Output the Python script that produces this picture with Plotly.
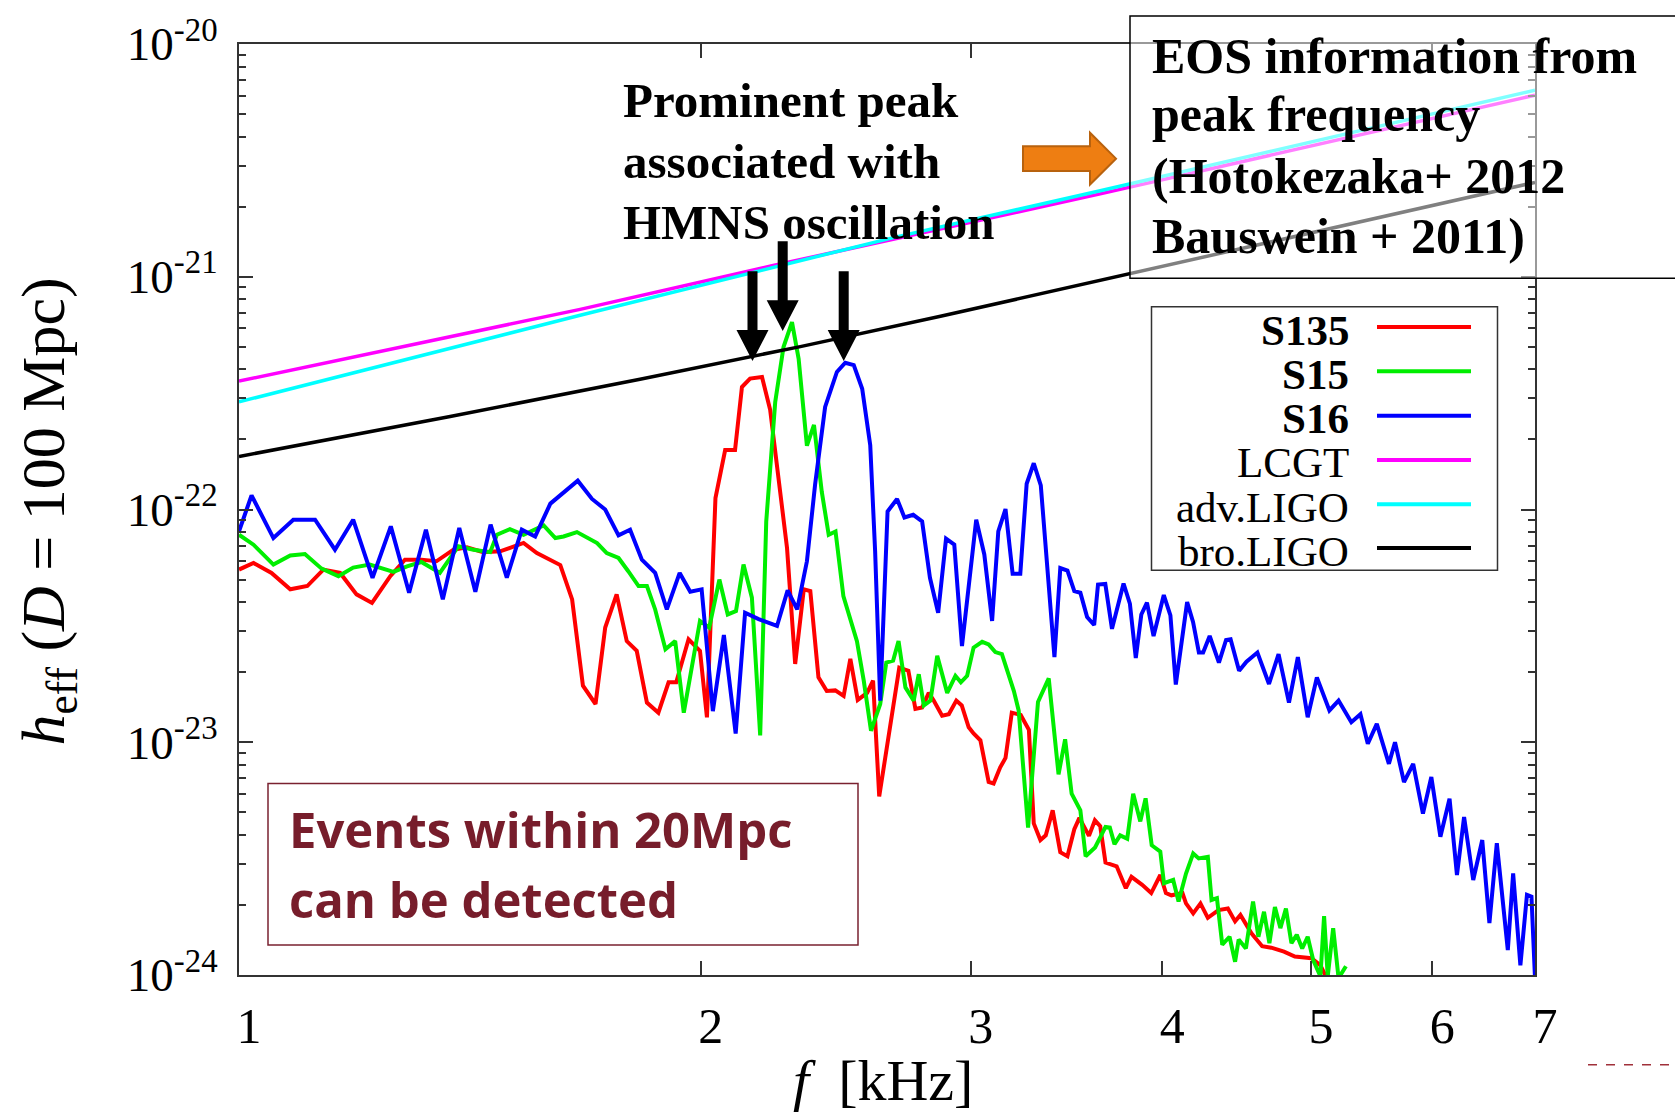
import math
import plotly.graph_objects as go

# ---------------- data (f in kHz, h in units of 1e-23) ----------------
H_UNIT = 1e-23

f_s135 = [1.000, 1.022, 1.050, 1.080, 1.108, 1.135, 1.164, 1.193, 1.221, 1.255,
          1.283, 1.315, 1.345, 1.380, 1.408, 1.443, 1.480, 1.506, 1.533, 1.564,
          1.620, 1.649, 1.676, 1.708, 1.733, 1.763, 1.790, 1.817, 1.845, 1.877,
          1.906, 1.928, 1.964, 1.998, 2.019, 2.045, 2.075, 2.106, 2.128, 2.154,
          2.193, 2.220, 2.248, 2.277, 2.305, 2.335, 2.358, 2.387, 2.417, 2.448,
          2.479, 2.504, 2.532, 2.568, 2.591, 2.615, 2.695, 2.732, 2.761, 2.789,
          2.817, 2.838, 2.874, 2.903, 2.936, 2.960, 2.991, 3.013, 3.044, 3.082,
          3.105, 3.136, 3.161, 3.191, 3.234, 3.274, 3.298, 3.331, 3.358, 3.393,
          3.432, 3.469, 3.505, 3.532, 3.583, 3.615, 3.644, 3.673, 3.735, 3.787,
          3.819, 3.881, 3.934, 3.988, 4.022, 4.055, 4.123, 4.145, 4.190, 4.236,
          4.283, 4.352, 4.414, 4.462, 4.498, 4.573, 4.647, 4.711, 4.802, 4.881,
          5.004, 5.072, 5.114, 5.183]
h_s135 = [5.52, 5.89, 5.34, 4.54, 4.69, 5.52, 5.34, 4.32, 3.97, 5.17,
          6.09, 6.09, 5.99, 6.72, 6.88, 6.56, 6.61, 6.90, 7.18, 6.50,
          5.77, 4.11, 1.75, 1.46, 3.11, 4.32, 2.72, 2.47, 1.48, 1.34,
          1.81, 1.81, 2.77, 2.47, 1.28, 11.2, 18.0, 18.0, 33.6, 36.5,
          37.1, 26.8, 14.1, 6.83, 2.17, 4.54, 4.46, 1.90, 1.66, 1.67,
          1.58, 2.28, 1.52, 1.63, 1.84, 0.585, 2.09, 2.03, 1.39, 1.41,
          1.63, 1.51, 1.30, 1.32, 1.51, 1.44, 1.16, 1.09, 1.02, 0.675,
          0.665, 0.780, 0.856, 1.34, 1.31, 1.13, 0.448, 0.380, 0.398, 0.510,
          0.337, 0.324, 0.423, 0.473, 0.396, 0.462, 0.436, 0.304, 0.293, 0.236,
          0.264, 0.244, 0.225, 0.269, 0.225, 0.220, 0.225, 0.203, 0.184, 0.203,
          0.176, 0.190, 0.193, 0.170, 0.181, 0.151, 0.133, 0.131, 0.126, 0.120,
          0.118, 0.110, 0.0985, 0.097]

f_s15 = [1.000, 1.022, 1.053, 1.080, 1.104, 1.132, 1.161, 1.187, 1.217, 1.261,
         1.287, 1.315, 1.352, 1.390, 1.422, 1.458, 1.473, 1.502, 1.533, 1.580,
         1.608, 1.628, 1.661, 1.712, 1.737, 1.768, 1.794, 1.822, 1.845, 1.868,
         1.897, 1.925, 1.950, 1.998, 2.026, 2.057, 2.083, 2.109, 2.133, 2.160,
         2.187, 2.207, 2.237, 2.265, 2.294, 2.317, 2.346, 2.371, 2.399, 2.424,
         2.449, 2.478, 2.529, 2.555, 2.583, 2.619, 2.643, 2.670, 2.692, 2.720,
         2.754, 2.775, 2.796, 2.824, 2.853, 2.896, 2.932, 2.956, 2.984, 3.013,
         3.052, 3.082, 3.113, 3.144, 3.201, 3.224, 3.270, 3.306, 3.319, 3.373,
         3.423, 3.457, 3.491, 3.537, 3.565, 3.616, 3.673, 3.697, 3.723, 3.755,
         3.795, 3.829, 3.870, 3.901, 3.937, 3.988, 4.010, 4.066, 4.099, 4.145,
         4.190, 4.225, 4.283, 4.307, 4.342, 4.377, 4.425, 4.462, 4.486, 4.535,
         4.584, 4.621, 4.660, 4.698, 4.737, 4.776, 4.816, 4.856, 4.895, 4.935,
         4.976, 5.017, 5.072, 5.100, 5.128, 5.170, 5.212, 5.270]
h_s15 = [7.79, 7.06, 5.80, 6.35, 6.44, 5.57, 5.17, 5.63, 5.80, 5.39,
         5.70, 5.95, 5.34, 6.95, 6.72, 6.56, 7.79, 8.24, 7.79, 8.55,
         7.54, 7.66, 8.00, 7.18, 6.50, 6.19, 5.43, 4.69, 4.69, 3.72,
         2.51, 2.72, 1.34, 3.32, 3.11, 5.00, 3.54, 3.66, 5.80, 4.18,
         1.07, 8.89, 29.0, 49.9, 63.8, 44.4, 18.8, 23.1, 11.9, 7.79,
         8.05, 4.25, 2.72, 1.84, 1.12, 1.46, 2.20, 2.24, 2.72, 1.72,
         1.51, 1.96, 1.44, 1.51, 2.35, 1.63, 1.93, 1.81, 1.93, 2.55,
         2.70, 2.63, 2.44, 2.39, 1.66, 1.37, 0.430, 1.12, 1.49, 1.88,
         0.728, 1.03, 0.601, 0.510, 0.324, 0.353, 0.433, 0.430, 0.365, 0.398,
         0.385, 0.601, 0.457, 0.574, 0.361, 0.339, 0.248, 0.256, 0.207, 0.273,
         0.333, 0.317, 0.322, 0.210, 0.214, 0.135, 0.146, 0.114, 0.142, 0.130,
         0.207, 0.146, 0.187, 0.137, 0.196, 0.159, 0.193, 0.137, 0.149, 0.130,
         0.146, 0.116, 0.0987, 0.179, 0.0987, 0.159, 0.097, 0.109]

f_s16 = [1.000, 1.019, 1.053, 1.085, 1.121, 1.155, 1.187, 1.222, 1.256, 1.291,
         1.324, 1.358, 1.392, 1.426, 1.459, 1.495, 1.529, 1.560, 1.596, 1.628,
         1.663, 1.699, 1.733, 1.768, 1.799, 1.831, 1.868, 1.901, 1.938, 1.969,
         2.003, 2.037, 2.071, 2.108, 2.138, 2.182, 2.243, 2.279, 2.312, 2.346,
         2.375, 2.411, 2.454, 2.485, 2.517, 2.549, 2.580, 2.599, 2.619, 2.648,
         2.686, 2.716, 2.752, 2.789, 2.822, 2.857, 2.891, 2.927, 2.961, 3.025,
         3.062, 3.098, 3.127, 3.161, 3.195, 3.232, 3.263, 3.298, 3.333, 3.402,
         3.432, 3.469, 3.505, 3.537, 3.573, 3.611, 3.632, 3.672, 3.709, 3.774,
         3.810, 3.844, 3.876, 3.909, 3.948, 4.009, 4.049, 4.082, 4.152, 4.189,
         4.226, 4.253, 4.295, 4.355, 4.402, 4.432, 4.489, 4.539, 4.614, 4.695,
         4.763, 4.838, 4.903, 4.976, 5.045, 5.141, 5.212, 5.313, 5.386, 5.446,
         5.520, 5.621, 5.673, 5.750, 5.830, 5.916, 5.991, 6.073, 6.157, 6.226,
         6.293, 6.380, 6.467, 6.537, 6.610, 6.720, 6.774, 6.848, 6.916, 6.963,
         7.000]
h_s16 = [8.05, 11.5, 7.54, 9.04, 9.04, 6.72, 9.04, 5.09, 8.46, 4.39,
         8.19, 4.11, 8.33, 4.43, 8.61, 5.09, 8.19, 7.66, 10.6, 11.9,
         13.3, 11.1, 10.0, 7.74, 8.19, 6.09, 5.34, 3.72, 5.34, 4.43,
         4.54, 1.36, 2.89, 1.09, 3.60, 3.38, 3.16, 4.49, 3.72, 5.99,
         12.8, 27.6, 39.0, 42.7, 41.7, 33.0, 18.9, 6.61, 1.51, 9.81,
         11.1, 9.24, 9.49, 8.89, 5.09, 3.60, 7.49, 7.06, 2.59, 9.04,
         6.41, 3.32, 8.05, 10.05, 5.30, 5.30, 12.9, 15.8, 12.7, 2.32,
         5.60, 5.46, 4.46, 4.39, 3.45, 3.19, 4.76, 4.79, 3.07, 4.81,
         3.94, 2.30, 3.54, 3.98, 2.86, 4.29, 3.51, 1.77, 4.00, 3.29,
         2.43, 2.43, 2.86, 2.20, 2.75, 2.77, 2.03, 2.22, 2.43, 1.78,
         2.39, 1.48, 2.32, 1.28, 1.90, 1.37, 1.51, 1.22, 1.32, 0.985,
         1.20, 0.808, 1.00, 0.675, 0.808, 0.494, 0.709, 0.393, 0.572, 0.269,
         0.477, 0.256, 0.380, 0.167, 0.368, 0.128, 0.273, 0.110, 0.221, 0.217,
         0.097]

f_lcgt = [1.0, 1.669, 2.230, 3.644, 7.0]
h_lcgt = [35.6, 72.4, 111.7, 227.0, 603.0]
f_adv = [1.0, 1.669, 2.671, 3.644, 7.0]
h_adv = [29.0, 68.3, 147.3, 234.0, 633.0]
f_bro = [1.0, 1.373, 1.826, 2.323, 2.867, 3.644, 4.921, 7.0]
h_bro = [16.9, 25.1, 36.3, 50.1, 67.6, 96.6, 150.5, 254.4]

series = [
    ("S135", f_s135, h_s135, "#ff0000", 4.0, True),
    ("S15", f_s15, h_s15, "#00ee00", 4.0, True),
    ("S16", f_s16, h_s16, "#0000ff", 4.0, True),
    ("LCGT", f_lcgt, h_lcgt, "#ff00ff", 3.5, False),
    ("adv.LIGO", f_adv, h_adv, "#00ffff", 3.5, False),
    ("bro.LIGO", f_bro, h_bro, "#000000", 3.5, False),
]

x_ticks = [1, 2, 3, 4, 5, 6, 7]
y_exps = [-24, -23, -22, -21, -20]

# ---------------- figure ----------------
W, H = 1675, 1119
L, R, T, B = 239, 140, 41, 144
PW, PH = W - L - R, H - T - B

def px(x):
    return (x - L) / PW

def py(y):
    return (H - B - y) / PH

fig = go.Figure()
for name, f, h, col, wid, bold in series:
    fig.add_trace(go.Scatter(x=f, y=[v * H_UNIT for v in h], mode="lines", name=name,
                             line=dict(color=col, width=wid), showlegend=False,
                             hoverinfo="skip"))

SERIF = "Liberation Serif, Times New Roman, serif"
AX = "#333333"

minor_vals = [k * 10.0 ** e for e in range(-24, -20) for k in range(2, 10)]

fig.update_layout(
    width=W, height=H,
    margin=dict(l=L, r=R, t=T, b=B, pad=0),
    paper_bgcolor="white", plot_bgcolor="white",
    showlegend=False,
    xaxis=dict(type="log", range=[0, math.log10(7)], tickmode="array",
               tickvals=x_ticks, ticktext=[str(v) for v in x_ticks],
               ticks="inside", ticklen=14, tickwidth=1.5, tickcolor=AX,
               showline=True, linecolor=AX, linewidth=2, mirror="ticks",
               showgrid=False, zeroline=False,
               tickfont=dict(family=SERIF, size=50, color="black"),
               ticklabelstandoff=6, ticklabelshift=10),
    yaxis=dict(type="log", range=[-24, -20], tickmode="array",
               tickvals=[10.0 ** e for e in y_exps],
               ticktext=["10<sup>%d</sup>" % e for e in y_exps],
               ticks="inside", ticklen=14, tickwidth=1.5, tickcolor=AX,
               minor=dict(tickmode="array", tickvals=minor_vals, ticks="inside",
                          ticklen=7, tickwidth=1.5, tickcolor=AX, showgrid=False),
               showline=True, linecolor=AX, linewidth=2, mirror="ticks",
               showgrid=False, zeroline=False,
               tickfont=dict(family=SERIF, size=47, color="black"),
               ticklabelstandoff=10),
)

shapes = []
annotations = []

def text(x, y, s, size, family=SERIF, color="black", xanchor="left", angle=0):
    annotations.append(dict(xref="paper", yref="paper", x=px(x), y=py(y), text=s,
                            showarrow=False, xanchor=xanchor, yanchor="middle",
                            textangle=angle,
                            font=dict(family=family, size=size, color=color)))

# axis titles
text(883, 1081, "<i>f</i>  [kHz]", 58, xanchor="center")
text(47, 510, "<i>h</i><sub>eff</sub> (<i>D</i> = 100 Mpc)", 62, xanchor="center", angle=-90)

# black down arrows
for cx, ys, yh, yt in [(752.5, 269, 328, 359), (782.7, 239, 298, 329), (843.7, 269, 328, 359)]:
    pts = [(cx - 5, ys), (cx + 5, ys), (cx + 5, yh), (cx + 16, yh), (cx, yt),
           (cx - 16, yh), (cx - 5, yh)]
    path = "M " + " L ".join("%f,%f" % (px(a), py(b)) for a, b in pts) + " Z"
    shapes.append(dict(type="path", xref="paper", yref="paper", path=path,
                       fillcolor="black", line=dict(width=0), layer="above"))

# orange block arrow
opts = [(1023, 143.5), (1090, 143.5), (1090, 130), (1116, 156), (1090, 182),
        (1090, 168.5), (1023, 168.5)]
path = "M " + " L ".join("%f,%f" % (px(a), py(b)) for a, b in opts) + " Z"
shapes.append(dict(type="path", xref="paper", yref="paper", path=path,
                   fillcolor="#ee7e12", line=dict(color="#b8620e", width=2), layer="above"))

# EOS box (semi-transparent)
shapes.append(dict(type="rect", xref="paper", yref="paper", x0=px(1130), x1=px(1680),
                   y0=py(276), y1=py(13), fillcolor="rgba(255,255,255,0.5)",
                   line=dict(color="black", width=1.5), layer="above"))
for i, s in enumerate(["EOS information from", "peak frequency",
                       "(Hotokezaka+ 2012", "Bauswein + 2011)"]):
    text(1150, [53, 111, 173, 234][i], "<b>%s</b>" % s, 50)

# Prominent peak text
for i, s in enumerate(["Prominent peak", "associated with", "HMNS oscillation"]):
    text(621, [98, 159, 220][i], "<b>%s</b>" % s, 49)

# Events box
shapes.append(dict(type="rect", xref="paper", yref="paper", x0=px(268), x1=px(858),
                   y0=py(945), y1=py(783), fillcolor="white",
                   line=dict(color="#7a2230", width=1.5), layer="above"))
for i, s in enumerate(["Events within 20Mpc", "can be detected"]):
    text(287, [829, 899][i], "<b>%s</b>" % s, 49, family="Open Sans, sans-serif",
         color="#771d2b")

# legend
shapes.append(dict(type="rect", xref="paper", yref="paper", x0=px(1151.5), x1=px(1497.5),
                   y0=py(569), y1=py(304.5), fillcolor="white",
                   line=dict(color=AX, width=1.5), layer="above"))
leg_y = [325, 369.3, 414, 458.3, 502.7, 546.7]
for (name, f, h, col, wid, bold), yy in zip(series, leg_y):
    shapes.append(dict(type="line", xref="paper", yref="paper", x0=px(1377), x1=px(1471),
                       y0=py(yy), y1=py(yy), line=dict(color=col, width=4), layer="above"))
    text(1351, yy + 3, ("<b>%s</b>" % name) if bold else name, 43, xanchor="right")

# small dashed line bottom right
shapes.append(dict(type="line", xref="paper", yref="paper", x0=px(1588), x1=px(1676),
                   y0=py(1065), y1=py(1065), line=dict(color="#a0303a", width=1.5, dash="dash")))

fig.update_layout(shapes=shapes, annotations=annotations)
fig.write_html("out.html")
